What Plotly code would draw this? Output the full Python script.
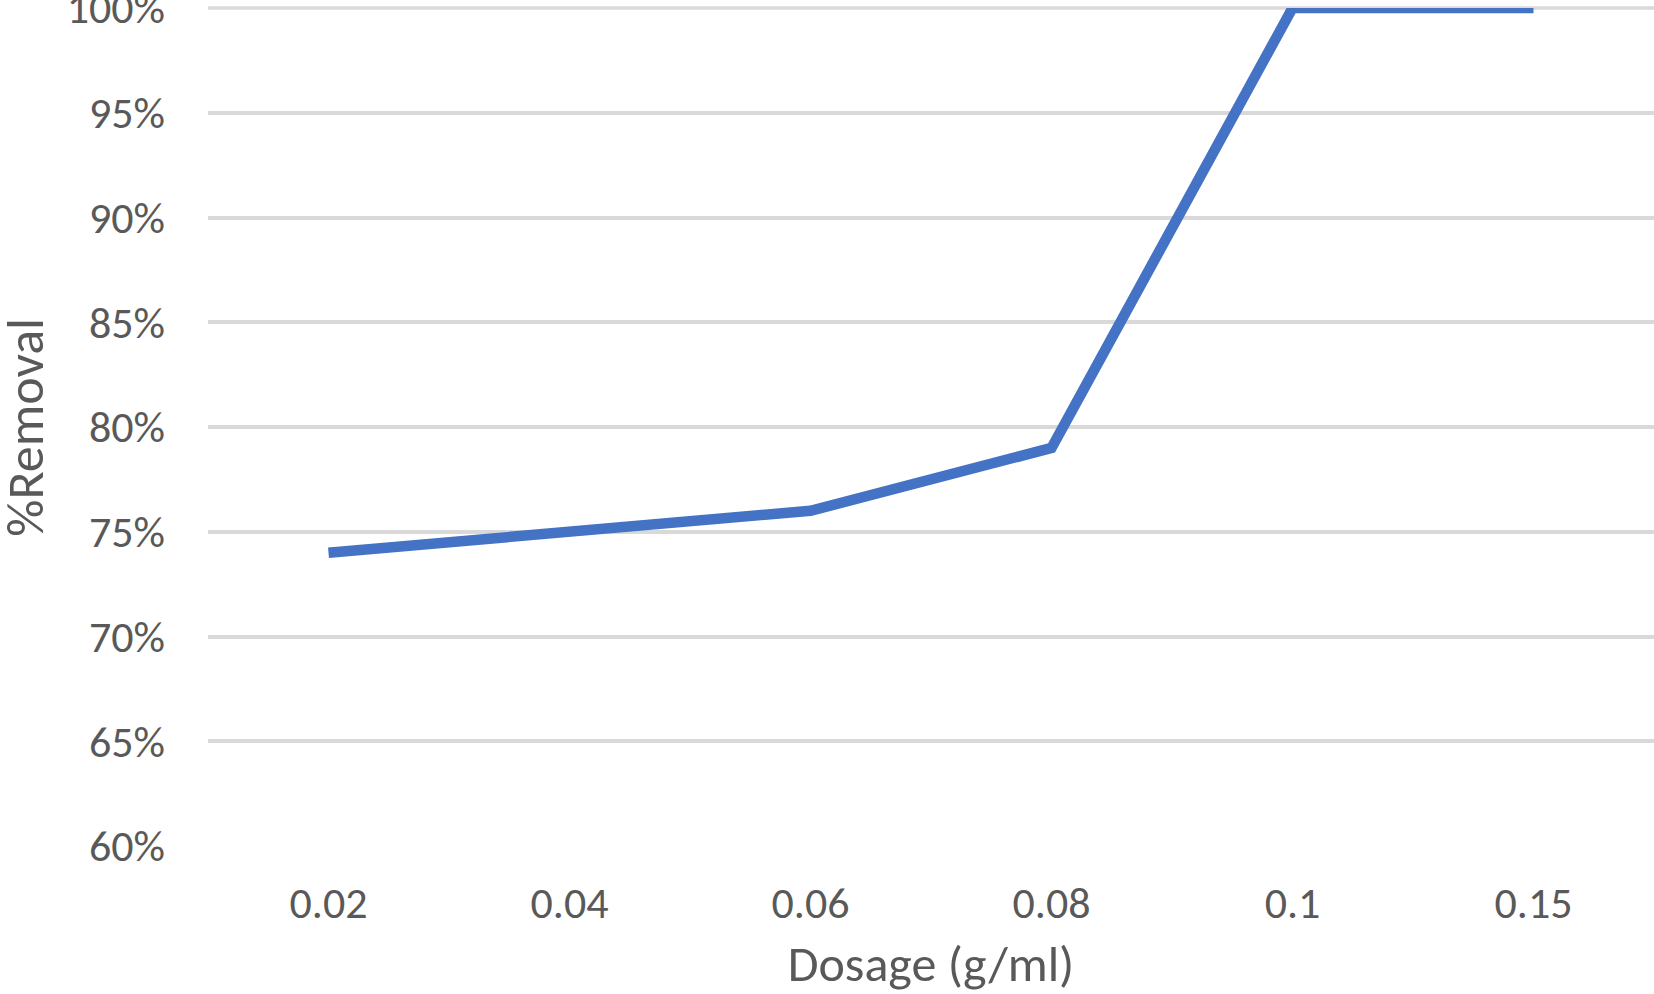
import plotly.graph_objects as go

dosage = ["0.02", "0.04", "0.06", "0.08", "0.1", "0.15"]
removal = [0.74, 0.75, 0.76, 0.79, 1.00, 1.00]
y_ticks = [0.60, 0.65, 0.70, 0.75, 0.80, 0.85, 0.90, 0.95, 1.00]
y_labels = ["60%", "65%", "70%", "75%", "80%", "85%", "90%", "95%", "100%"]

FONT = "Carlito, Calibri, Lato, sans-serif"
GREY = "#595959"
GRID = "#D9D9D9"

fig = go.Figure()
fig.add_trace(go.Scatter(
    x=dosage, y=removal, mode="lines",
    line=dict(color="#4472C4", width=10.5),
    showlegend=False,
))

fig.update_layout(
    width=1654, height=994,
    margin=dict(l=208, r=0, t=8, b=148),
    plot_bgcolor="white", paper_bgcolor="white",
    font=dict(family=FONT, color=GREY),
)
fig.update_xaxes(
    type="category",
    range=[-0.5, len(dosage) - 0.5],
    showgrid=False, showline=False, zeroline=False, ticks="",
    tickfont=dict(size=44, family=FONT, color=GREY),
    ticklabelstandoff=27,
    title=dict(text="Dosage (g/ml)", font=dict(size=50, family=FONT, color=GREY), standoff=24),
    automargin=False,
)
fig.update_yaxes(
    range=[0.6, 1.0],
    tickvals=y_ticks, ticktext=y_labels,
    showgrid=True, gridcolor=GRID, gridwidth=3.5,
    showline=False, zeroline=False, ticks="",
    tickfont=dict(size=44, family=FONT, color=GREY),
    ticklabelstandoff=42,
    ticklabeloverflow="allow",
    automargin=False,
)
# y-axis title as a rotated annotation so it can sit close to the left edge
fig.add_annotation(
    text="%Removal", xref="paper", yref="paper", x=-0.1268, y=0.5,
    xanchor="center", yanchor="middle", textangle=-90, showarrow=False,
    font=dict(size=52, family=FONT, color=GREY),
)
# gridline at the top end of the value axis (plotly drops gridlines at the range edge)
fig.add_shape(type="line", xref="paper", yref="paper", x0=0, x1=1, y0=1, y1=1,
              line=dict(color=GRID, width=3.5), layer="below")

fig.write_html("out.html", config={"displayModeBar": False},
               post_script="document.body.style.margin='0';")
